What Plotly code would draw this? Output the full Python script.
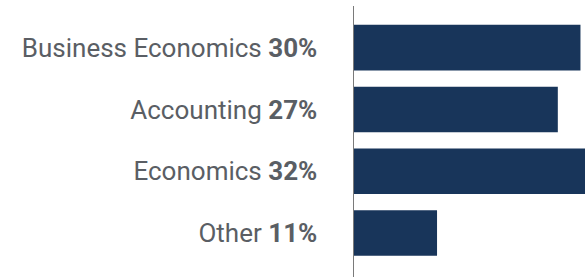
import plotly.graph_objects as go

categories = ["Business Economics", "Accounting", "Economics", "Other"]
values = [30, 27, 32, 11]
tick_labels = [f"{c} <b>{v}%</b>" for c, v in zip(categories, values)]

fig = go.Figure(go.Bar(
    x=values,
    y=categories,
    orientation="h",
    marker=dict(color="#18355a", line=dict(width=0)),
    width=0.737,
    hoverinfo="skip",
))

fig.update_layout(
    width=585, height=277,
    margin=dict(l=354, r=0, t=6, b=0),
    paper_bgcolor="white", plot_bgcolor="white",
    showlegend=False,
    font=dict(family="Roboto", size=26, color="#5a5e64"),
)
fig.update_xaxes(range=[0, 30.6], visible=False, showgrid=False, zeroline=False)
fig.update_yaxes(
    range=[3.713, -0.674],
    tickmode="array", tickvals=categories, ticktext=tick_labels,
    showline=True, linecolor="#7a7a7a", linewidth=1.5,
    showgrid=False, zeroline=False, ticks="", ticklabelstandoff=30,
)

fig.write_html(
    "out.html",
    config={"displayModeBar": False, "staticPlot": True},
    post_script="document.body.style.margin='0';document.body.style.overflow='hidden';",
)
